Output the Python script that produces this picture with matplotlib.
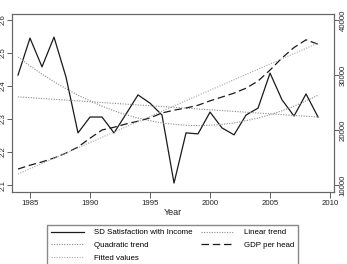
import matplotlib
matplotlib.use("Agg")
import matplotlib.pyplot as plt

plt.rcParams['font.family'] = ['Liberation Sans', 'DejaVu Sans']

years = list(range(1984, 2010))
sd_satisfaction = [2.433, 2.545, 2.458, 2.548, 2.427, 2.258, 2.306, 2.306, 2.258, 2.315,
                   2.373, 2.348, 2.312, 2.106, 2.258, 2.255, 2.321, 2.273, 2.252, 2.312,
                   2.333, 2.439, 2.358, 2.309, 2.376, 2.306]
quadratic_trend = [2.488, 2.461, 2.436, 2.413, 2.392, 2.372, 2.355, 2.339, 2.325, 2.313,
                   2.303, 2.295, 2.288, 2.284, 2.281, 2.280, 2.281, 2.284, 2.288, 2.295,
                   2.303, 2.313, 2.325, 2.339, 2.355, 2.372]
gdp_per_head = [12900, 13600, 14200, 14900, 15800, 16900, 18500, 20000, 20500, 21100,
                21600, 22200, 23100, 23600, 24000, 24500, 25300, 26000, 26700, 27600,
                28900, 30900, 33100, 35000, 36400, 35600]
linear_years = [1984, 2009]
linear_trend = [2.367, 2.306]
fitted_years = [1984, 2009]
fitted_values = [12000, 35800]

left_ticks = [2.1, 2.2, 2.3, 2.4, 2.5, 2.6]
right_ticks = [10000, 20000, 30000, 40000]
x_ticks = [1985, 1990, 1995, 2000, 2005, 2010]

fig = plt.figure(figsize=(3.47, 2.64), dpi=100)
ax = fig.add_axes([12/347, 1-192/264, (334-12)/347, (192-14)/264])
ax2 = ax.twinx()

l1, = ax.plot(years, sd_satisfaction, color='#1a1a1a', lw=0.9, label='SD Satisfaction with Income')
l2, = ax.plot(linear_years, linear_trend, color='#8a8a8a', lw=0.8, ls=(0, (1, 1.3)), label='Linear trend')
l3, = ax.plot(years, quadratic_trend, color='#8a8a8a', lw=0.8, ls=(0, (1, 1.3)), label='Quadratic trend')
l4, = ax2.plot(years, gdp_per_head, color='#1a1a1a', lw=0.9, ls=(0, (6, 3)), label='GDP per head')
l5, = ax2.plot(fitted_years, fitted_values, color='#a8a8a8', lw=0.8, ls=(0, (1, 1.3)), label='Fitted values')

ax.set_xlim(1983.5, 2010.33)
ax.set_ylim(2.079, 2.618)
ax2.set_ylim(8727, 41091)
ax.set_xticks(x_ticks)
ax.set_yticks(left_ticks)
ax.set_yticklabels([f"{v:.1f}" for v in left_ticks], rotation=90, va='center')
ax2.set_yticks(right_ticks)
ax2.set_yticklabels([str(v) for v in right_ticks], rotation=90, va='center')
for a in (ax, ax2):
    a.tick_params(labelsize=5.6, length=3.6, width=0.6, color='#444444', pad=0.6, labelcolor='#222222')
    for s in a.spines.values():
        s.set_color('#666666')
        s.set_linewidth(0.8)
ax.tick_params(axis='x', length=4, pad=1.8)
ax.set_xlabel('Year', fontsize=6.5, labelpad=0.5, color='#222222')

fig.legend([l1, l3, l5, l2, l4],
           ['SD Satisfaction with Income', 'Quadratic trend', 'Fitted values', 'Linear trend', 'GDP per head'],
           loc='upper left', bbox_to_anchor=(47/347, 1-225/264), ncol=2, fontsize=5.7,
           frameon=True, fancybox=False, edgecolor='#888888', framealpha=1,
           handlelength=4.2, handletextpad=1.2, columnspacing=1.1, labelspacing=0.65,
           borderpad=0.5, borderaxespad=0)

fig.savefig('out.png', dpi=100)
